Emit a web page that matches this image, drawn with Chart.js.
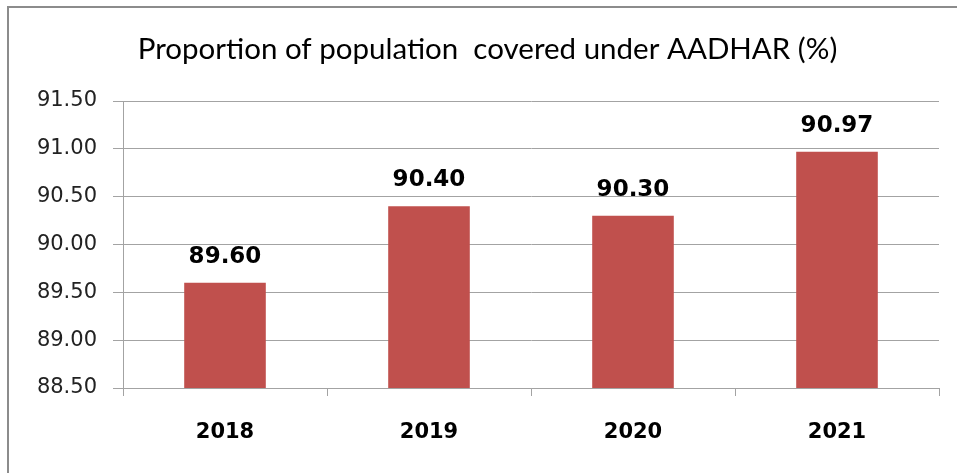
<!DOCTYPE html>
<html>
<head>
<meta charset="utf-8">
<script src="https://cdn.jsdelivr.net/npm/chart.js@4"></script>
<style>
    body {
        margin: 0;
        background: #ffffff;
        overflow: hidden;
    }

    #contenedor {
        position: relative;
        width: 957px;
        height: 473px;
    }

    #marco {
        position: absolute;
        left: 7px;
        top: 6px;
        width: 1000px;
        height: 1000px;
        border-left: 2px solid #8c8c8c;
        border-top: 2px solid #8c8c8c;
    }

    #grafico {
        position: absolute;
        left: 0;
        top: 0;
    }
</style>
</head>
<body>
<div id="contenedor">
    <div id="marco"></div>
    <canvas id="grafico" width="957" height="473"></canvas>
</div>

<script>
const TITULO = "Proportion of population  covered under AADHAR (%)";

const categorias = ["2018", "2019", "2020", "2021"];
const valores = [89.60, 90.40, 90.30, 90.97];
const marcasEjeY = [88.50, 89.00, 89.50, 90.00, 90.50, 91.00, 91.50];

const COLOR_BARRA = "#c0504d";
const COLOR_GRILLA = "#a3a3a3";

// etiquetas con el valor encima de cada barra
const etiquetasValores = {
    id: "etiquetasValores",
    afterDatasetsDraw(chart) {
        const ctx = chart.ctx;
        const meta = chart.getDatasetMeta(0);

        ctx.save();
        ctx.font = "bold 23px 'DejaVu Sans'";
        ctx.fillStyle = "#000000";
        ctx.textAlign = "center";
        ctx.textBaseline = "alphabetic";

        meta.data.forEach((barra, i) => {
            ctx.fillText(valores[i].toFixed(2), barra.x, barra.y - 20);
        });

        ctx.restore();
    }
};

function crearGrafico() {
    const contexto = document.getElementById("grafico");

    new Chart(contexto, {
        type: "bar",
        data: {
            labels: categorias,
            datasets: [
                {
                    label: "AADHAR",
                    data: valores,
                    backgroundColor: COLOR_BARRA,
                    borderWidth: 0,
                    barPercentage: 0.4,
                    categoryPercentage: 1
                }
            ]
        },
        options: {
            responsive: false,
            animation: false,
            devicePixelRatio: 1,
            layout: {
                padding: {
                    left: 36,
                    right: 18,
                    top: 0,
                    bottom: 0
                }
            },
            plugins: {
                legend: {
                    display: false
                },
                tooltip: {
                    enabled: false
                },
                title: {
                    display: true,
                    text: TITULO,
                    color: "#000000",
                    font: {
                        family: "Lato",
                        size: 29.5,
                        weight: "normal"
                    },
                    padding: {
                        top: 32,
                        bottom: 33.6
                    }
                }
            },
            scales: {
                x: {
                    grid: {
                        offset: true,
                        drawOnChartArea: false,
                        drawTicks: true,
                        tickLength: 8,
                        color: COLOR_GRILLA
                    },
                    border: {
                        display: true,
                        color: COLOR_GRILLA
                    },
                    ticks: {
                        color: "#000000",
                        padding: 24,
                        font: {
                            family: "DejaVu Sans",
                            size: 21,
                            weight: "bold"
                        }
                    },
                    afterFit(escala) {
                        escala.height = 85;
                    }
                },
                y: {
                    min: 88.5,
                    max: 91.5,
                    grid: {
                        drawTicks: true,
                        tickLength: 10,
                        color: COLOR_GRILLA
                    },
                    border: {
                        display: true,
                        color: COLOR_GRILLA
                    },
                    ticks: {
                        color: "#222222",
                        padding: 16,
                        font: {
                            family: "DejaVu Sans",
                            size: 21
                        },
                        callback: valor => Number(valor).toFixed(2)
                    },
                    afterBuildTicks(escala) {
                        escala.ticks = marcasEjeY.map(v => ({ value: v }));
                    },
                    afterFit(escala) {
                        escala.width = 87;
                    }
                }
            }
        },
        plugins: [etiquetasValores]
    });
}

crearGrafico();
</script>
</body>
</html>
